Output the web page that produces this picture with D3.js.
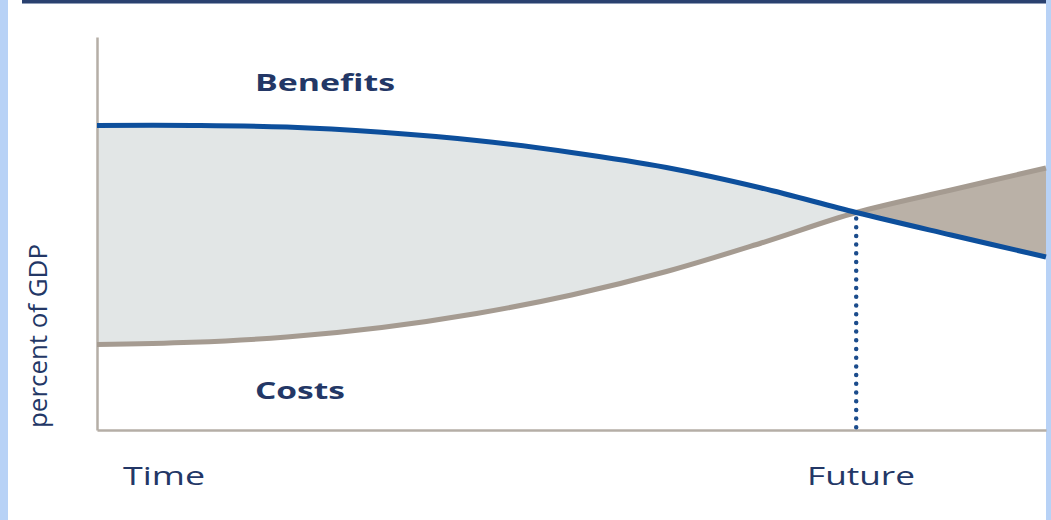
<!DOCTYPE html>
<html>
<head>
<meta charset="utf-8">
<script src="https://cdn.jsdelivr.net/npm/d3@7"></script>
<style>
  html, body { margin: 0; padding: 0; background: #ffffff; }
  svg { display: block; }
  text { font-family: "Open Sans", "Noto Sans", sans-serif; fill: #233766; }
</style>
</head>
<body>
<svg id="chart" width="1051" height="520"></svg>
<script>
// ---- data ----
const timeSteps    = [0, 10, 20, 30, 40, 50, 60, 70, 80, 90, 100];
const benefitsVals = [77.5, 77.5, 77.1, 75.75, 73.66, 70.61, 66.79, 61.58, 55.34, 49.62, 44.02];
const costsVals    = [21.76, 22.32, 23.66, 26.08, 29.64, 34.35, 40.33, 47.58, 55.34, 61.07, 66.67];
const futureStep   = 80;
const seriesLabels = ["Benefits", "Costs"];
const axisLabels   = ["Time", "Future"];
const yAxisTitle   = "percent of GDP";

const rows = timeSteps.map((t, i) => ({ t, b: benefitsVals[i], c: costsVals[i] }));

const svg = d3.select("#chart");
const W = 1051, H = 520;

// frame decorations
svg.append("rect").attr("x", 0).attr("y", 0).attr("width", W).attr("height", H).attr("fill", "#ffffff");
svg.append("rect").attr("x", 0).attr("y", 0).attr("width", 8).attr("height", H).attr("fill", "#b8d2f6");
svg.append("rect").attr("x", 1046).attr("y", 0).attr("width", 5).attr("height", H).attr("fill", "#b8d2f6");
svg.append("rect").attr("x", 22).attr("y", 0).attr("width", 1024).attr("height", 3).attr("fill", "#2a416f");
svg.append("rect").attr("x", 22).attr("y", 3).attr("width", 1024).attr("height", 1).attr("fill", "#8f9db8");

const x = d3.scaleLinear().domain([0, 100]).range([97, 1046]);
const y = d3.scaleLinear().domain([0, 100]).range([430, 37]);

const curve = d3.curveCatmullRom.alpha(0.5);
const xf = x(futureStep);

// clip paths for the two shaded regions
const defs = svg.append("defs");
defs.append("clipPath").attr("id", "clipBefore")
  .append("rect").attr("x", x(0)).attr("y", 0).attr("width", xf - x(0)).attr("height", H);
defs.append("clipPath").attr("id", "clipAfter")
  .append("rect").attr("x", xf).attr("y", 0).attr("width", x(100) - xf).attr("height", H);

const area = d3.area().curve(curve)
  .x(d => x(d.t)).y0(d => y(d.c)).y1(d => y(d.b));

svg.append("path").datum(rows).attr("d", area)
  .attr("fill", "#e2e6e6").attr("clip-path", "url(#clipBefore)");
svg.append("path").datum(rows).attr("d", area)
  .attr("fill", "#bab1a7").attr("clip-path", "url(#clipAfter)");

// axes (no ticks)
const gx = svg.append("g").attr("transform", `translate(0,${y(0)})`)
  .call(d3.axisBottom(x).tickValues([]).tickSizeOuter(0));
const gy = svg.append("g").attr("transform", `translate(${x(0)},0)`)
  .call(d3.axisLeft(y).tickValues([]).tickSizeOuter(0));
[gx, gy].forEach(g => g.select(".domain").attr("stroke", "#b5aea6").attr("stroke-width", 2.5));

// lines
const costLine = d3.line().curve(curve).x(d => x(d.t)).y(d => y(d.c));
const benLine  = d3.line().curve(curve).x(d => x(d.t)).y(d => y(d.b));

svg.append("path").datum(rows).attr("d", costLine)
  .attr("fill", "none").attr("stroke", "#a59b91").attr("stroke-width", 5);
svg.append("path").datum(rows).attr("d", benLine)
  .attr("fill", "none").attr("stroke", "#0d4f9c").attr("stroke-width", 5);

// dotted vertical line at future point
const crossVal = benefitsVals[timeSteps.indexOf(futureStep)];
svg.append("line")
  .attr("x1", xf).attr("x2", xf)
  .attr("y1", y(crossVal) + 6).attr("y2", y(0))
  .attr("stroke", "#1b4c8c").attr("stroke-width", 4.5)
  .attr("stroke-linecap", "round").attr("stroke-dasharray", "0 8.7");

// labels
svg.append("text").attr("x", 255).attr("y", 91)
  .attr("font-size", 24).attr("font-weight", 700)
  .attr("textLength", 140).attr("lengthAdjust", "spacingAndGlyphs")
  .text(seriesLabels[0]);
svg.append("text").attr("x", 255).attr("y", 399)
  .attr("font-size", 24).attr("font-weight", 700)
  .attr("textLength", 90).attr("lengthAdjust", "spacingAndGlyphs")
  .text(seriesLabels[1]);
svg.append("text").attr("x", 123).attr("y", 485)
  .attr("font-size", 26).attr("font-weight", 500)
  .attr("textLength", 82).attr("lengthAdjust", "spacingAndGlyphs")
  .text(axisLabels[0]);
svg.append("text").attr("x", 807).attr("y", 485)
  .attr("font-size", 26).attr("font-weight", 500)
  .attr("textLength", 108).attr("lengthAdjust", "spacingAndGlyphs")
  .text(axisLabels[1]);
svg.append("text").attr("transform", "translate(47,428) rotate(-90)")
  .attr("font-size", 26).attr("font-weight", 400)
  .attr("textLength", 184).attr("lengthAdjust", "spacingAndGlyphs")
  .text(yAxisTitle);
</script>
</body>
</html>
